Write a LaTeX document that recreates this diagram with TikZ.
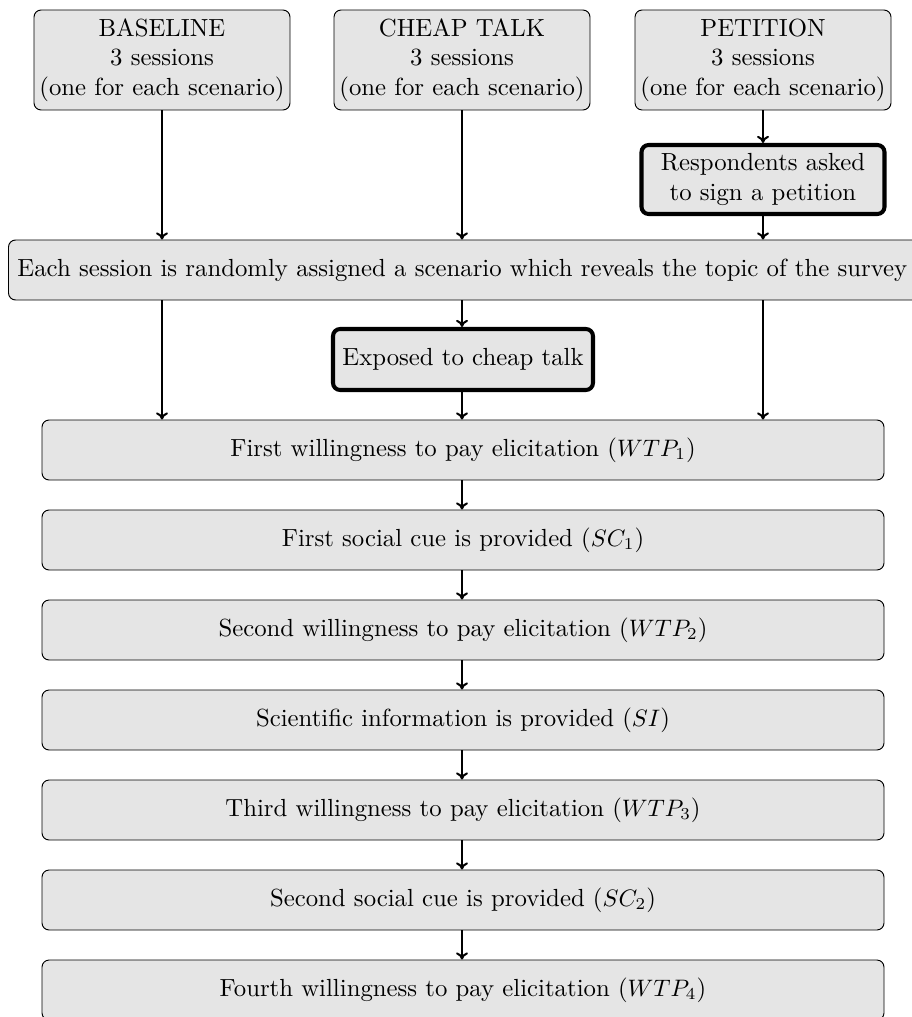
\documentclass[tikz,border=0pt]{standalone}
\usetikzlibrary{arrows.meta}
\newcommand\px{0.42pt}
\tikzset{
  box/.style={draw, rounded corners=3pt, fill=black!10, line width=0.4pt, inner sep=0pt, align=center, font=\fontsize{10.4}{12.4}\selectfont},
  strongbox/.style={box, line width=1.7pt},
  flow/.style={-{To[length=3pt,width=5pt]}, line width=0.85pt},
}
\begin{document}
\begin{tikzpicture}[x=\px, y=-\px]
\useasboundingbox (0,0) rectangle (911,1017);
\node[box, minimum width=256*\px, minimum height=100*\px] (base) at (162,60) {BASELINE\\3 sessions\\(one for each scenario)};
\node[box, minimum width=256*\px, minimum height=100*\px] (cheap) at (462,60) {CHEAP TALK\\3 sessions\\(one for each scenario)};
\node[box, minimum width=256*\px, minimum height=100*\px] (pet) at (763,60) {PETITION\\3 sessions\\(one for each scenario)};
\node[strongbox, minimum width=243*\px, minimum height=69*\px] (sign) at (763,179.5) {Respondents asked\\to sign a petition};
\node[box, inner xsep=9*\px, minimum height=60*\px, anchor=west] (assign) at (8,270) {Each session is randomly assigned a scenario which reveals the topic of the survey\hspace*{6pt}};
\node[strongbox, minimum width=260*\px, minimum height=61*\px] (ct) at (463,359.5) {Exposed to cheap talk};
\node[box, minimum width=842*\px, minimum height=60*\px] (w1) at (463,450) {First willingness to pay elicitation ($WTP_1$)};
\node[box, minimum width=842*\px, minimum height=60*\px] (s1) at (463,540) {First social cue is provided ($SC_1$)};
\node[box, minimum width=842*\px, minimum height=60*\px] (w2) at (463,630) {Second willingness to pay elicitation ($WTP_2$)};
\node[box, minimum width=842*\px, minimum height=60*\px] (si) at (463,720) {Scientific information is provided ($SI$)};
\node[box, minimum width=842*\px, minimum height=60*\px] (w3) at (463,810) {Third willingness to pay elicitation ($WTP_3$)};
\node[box, minimum width=842*\px, minimum height=60*\px] (s2) at (463,900) {Second social cue is provided ($SC_2$)};
\node[box, minimum width=842*\px, minimum height=60*\px] (w4) at (463,990) {Fourth willingness to pay elicitation ($WTP_4$)};
\draw[flow] (base.south) -- (base.south |- assign.north);
\draw[flow] (cheap.south) -- (cheap.south |- assign.north);
\draw[flow] (pet.south) -- (sign.north);
\draw[flow] (sign.south) -- (sign.south |- assign.north);
\draw[flow] (base.south |- assign.south) -- (base.south |- w1.north);
\draw[flow] (cheap.south |- assign.south) -- (ct.north -| cheap.south);
\draw[flow] (ct.south -| cheap.south) -- (cheap.south |- w1.north);
\draw[flow] (sign.south |- assign.south) -- (sign.south |- w1.north);
\draw[flow] (w1.south -| cheap.south) -- (s1.north -| cheap.south);
\draw[flow] (s1.south -| cheap.south) -- (w2.north -| cheap.south);
\draw[flow] (w2.south -| cheap.south) -- (si.north -| cheap.south);
\draw[flow] (si.south -| cheap.south) -- (w3.north -| cheap.south);
\draw[flow] (w3.south -| cheap.south) -- (s2.north -| cheap.south);
\draw[flow] (s2.south -| cheap.south) -- (w4.north -| cheap.south);
\end{tikzpicture}
\end{document}
